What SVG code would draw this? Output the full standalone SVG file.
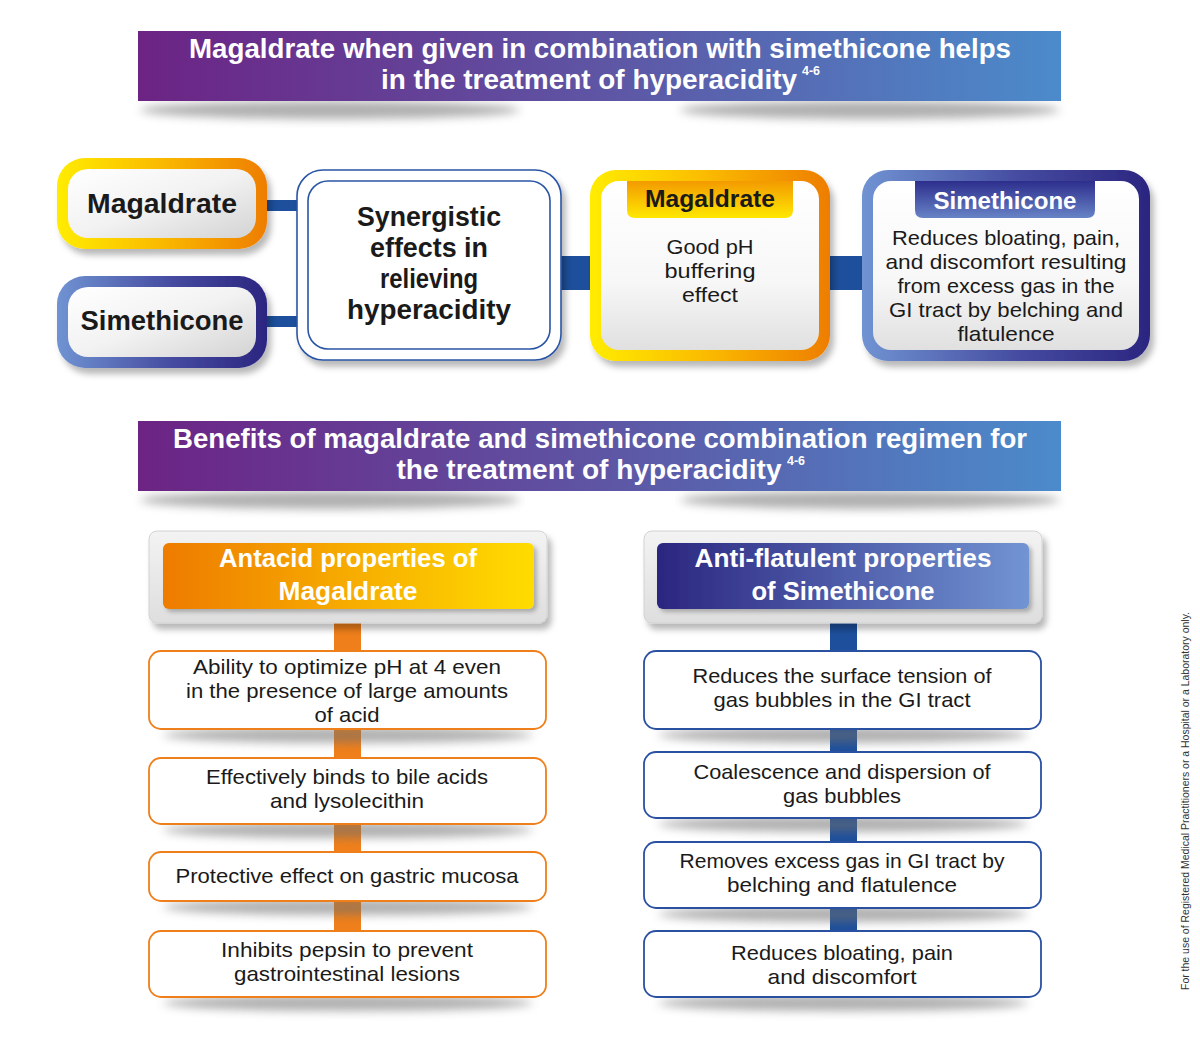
<svg xmlns="http://www.w3.org/2000/svg" width="1200" height="1038" viewBox="0 0 1200 1038">
<defs>
<linearGradient id="gBanner" x1="0" y1="0" x2="1" y2="0"><stop offset="0" stop-color="#6c2384"/><stop offset="0.5" stop-color="#5e55a4"/><stop offset="1" stop-color="#4b8bcb"/></linearGradient>
<linearGradient id="gYO" x1="0" y1="0" x2="1" y2="0"><stop offset="0" stop-color="#ffec00"/><stop offset="0.45" stop-color="#fbbf00"/><stop offset="1" stop-color="#ee7d00"/></linearGradient>
<linearGradient id="gBl" x1="0" y1="0" x2="1" y2="0"><stop offset="0" stop-color="#7093d2"/><stop offset="0.55" stop-color="#454ba0"/><stop offset="1" stop-color="#2b2680"/></linearGradient>
<linearGradient id="gIn" x1="0" y1="0" x2="1" y2="1"><stop offset="0" stop-color="#ffffff"/><stop offset="0.5" stop-color="#f2f2f2"/><stop offset="1" stop-color="#d3d3d3"/></linearGradient>
<linearGradient id="gInV" x1="0" y1="0" x2="0" y2="1"><stop offset="0" stop-color="#ffffff"/><stop offset="0.6" stop-color="#f7f7f7"/><stop offset="1" stop-color="#e0e0e0"/></linearGradient>
<linearGradient id="gTabO" x1="0" y1="0" x2="0" y2="1"><stop offset="0" stop-color="#f39a00"/><stop offset="1" stop-color="#ffe800"/></linearGradient>
<linearGradient id="gTabB" x1="0" y1="0" x2="0" y2="1"><stop offset="0" stop-color="#2d2e8c"/><stop offset="1" stop-color="#6783c6"/></linearGradient>
<linearGradient id="gHdO" x1="0" y1="0" x2="1" y2="0"><stop offset="0" stop-color="#ee7b00"/><stop offset="1" stop-color="#ffdc00"/></linearGradient>
<linearGradient id="gHdB" x1="0" y1="0" x2="1" y2="0"><stop offset="0" stop-color="#2b2680"/><stop offset="1" stop-color="#7294d3"/></linearGradient>
<linearGradient id="gCard" x1="0" y1="0" x2="0" y2="1"><stop offset="0" stop-color="#f3f3f3"/><stop offset="1" stop-color="#dedede"/></linearGradient>
<filter id="blur" x="-20%" y="-100%" width="140%" height="300%"><feGaussianBlur stdDeviation="5"/></filter>
<filter id="ds" x="-10%" y="-10%" width="125%" height="135%"><feDropShadow dx="4" dy="6" stdDeviation="3" flood-color="#000" flood-opacity="0.28"/></filter>
<filter id="ds2" x="-10%" y="-10%" width="125%" height="135%"><feDropShadow dx="3" dy="3" stdDeviation="2" flood-color="#000" flood-opacity="0.25"/></filter>
</defs>
<style>
.t{font-family:"Liberation Sans",Arial,sans-serif;text-anchor:middle}
.b{font-weight:700}
.w{fill:#ffffff}
.k{fill:#1a1a1a}
.ttl{font-size:27.5px}
.nb{font-size:27px}
.hb{font-size:24px}
.bd{font-size:21px;fill:#1a1a1a}
.hd{font-size:26px}
.bo{fill:#ffffff;stroke:#ef7f1a;stroke-width:1.8}
.bb{fill:#ffffff;stroke:#2a50a2;stroke-width:1.8}
.sh{fill:#6e6e6e;opacity:0.55;filter:url(#blur)}
.con{fill:#1d4f9c}
.cono{fill:#ef7f1a}
</style>
<rect width="1200" height="1038" fill="#ffffff"/>

<g id="banner1">
<ellipse class="sh" cx="330" cy="110" rx="190" ry="9"/>
<ellipse class="sh" cx="870" cy="110" rx="190" ry="9"/>
<rect x="138" y="31" width="923" height="70" fill="url(#gBanner)"/>
<text class="t b w ttl" x="600" y="58" textLength="822" lengthAdjust="spacingAndGlyphs">Magaldrate when given in combination with simethicone helps</text>
<text class="t b w ttl" x="589" y="89" textLength="416" lengthAdjust="spacingAndGlyphs">in the treatment of hyperacidity</text>
<text class="t b w" x="811" y="75" font-size="13" textLength="18" lengthAdjust="spacingAndGlyphs">4-6</text>
</g>

<g id="connectors">
<rect class="con" x="264" y="200" width="35" height="11"/>
<rect class="con" x="264" y="316" width="35" height="11"/>
<rect class="con" x="559" y="256" width="33" height="34"/>
<rect class="con" x="828" y="256" width="36" height="34"/>
<rect class="cono" x="334" y="622" width="27" height="312"/>
<rect class="con" x="830" y="622" width="27" height="312"/>
</g>

<g id="n-magaldrate">
<rect x="57" y="158" width="210" height="91" rx="28" fill="url(#gYO)" filter="url(#ds)"/>
<rect x="68" y="169" width="188" height="69" rx="20" fill="url(#gIn)"/>
<text class="t b k nb" x="162" y="213" textLength="150" lengthAdjust="spacingAndGlyphs">Magaldrate</text>
</g>

<g id="n-simethicone">
<rect x="57" y="276" width="210" height="92" rx="28" fill="url(#gBl)" filter="url(#ds)"/>
<rect x="68" y="287" width="188" height="70" rx="20" fill="url(#gIn)"/>
<text class="t b k nb" x="162" y="330" textLength="163" lengthAdjust="spacingAndGlyphs">Simethicone</text>
</g>

<g id="n-synergistic">
<rect x="297" y="170" width="264" height="190" rx="26" fill="#ffffff" stroke="#2a55a5" stroke-width="1.6" filter="url(#ds)"/>
<rect x="308" y="181" width="242" height="168" rx="20" fill="#ffffff" stroke="#2a55a5" stroke-width="1.6"/>
<text class="t b k nb" x="429" y="226" textLength="144" lengthAdjust="spacingAndGlyphs">Synergistic</text>
<text class="t b k nb" x="429" y="257" textLength="118" lengthAdjust="spacingAndGlyphs">effects in</text>
<text class="t b k nb" x="429" y="288" textLength="98" lengthAdjust="spacingAndGlyphs">relieving</text>
<text class="t b k nb" x="429" y="319" textLength="164" lengthAdjust="spacingAndGlyphs">hyperacidity</text>
</g>

<g id="n-magaldrate-effect">
<rect x="590" y="170" width="240" height="191" rx="26" fill="url(#gYO)" filter="url(#ds)"/>
<rect x="601" y="181" width="218" height="169" rx="18" fill="url(#gInV)"/>
<path d="M627 181 H793 V210 Q793 218 785 218 H635 Q627 218 627 210 Z" fill="url(#gTabO)"/>
<text class="t b k hb" x="710" y="207" textLength="130" lengthAdjust="spacingAndGlyphs">Magaldrate</text>
<text class="t bd" x="710" y="254" textLength="87" lengthAdjust="spacingAndGlyphs">Good pH</text>
<text class="t bd" x="710" y="278" textLength="91" lengthAdjust="spacingAndGlyphs">buffering</text>
<text class="t bd" x="710" y="302" textLength="56" lengthAdjust="spacingAndGlyphs">effect</text>
</g>

<g id="n-simethicone-effect">
<rect x="862" y="170" width="288" height="191" rx="26" fill="url(#gBl)" filter="url(#ds)"/>
<rect x="873" y="181" width="266" height="169" rx="18" fill="url(#gInV)"/>
<path d="M915 181 H1095 V210 Q1095 218 1087 218 H923 Q915 218 915 210 Z" fill="url(#gTabB)"/>
<text class="t b w hb" x="1005" y="209" textLength="143" lengthAdjust="spacingAndGlyphs">Simethicone</text>
<text class="t bd" x="1006" y="245" textLength="228" lengthAdjust="spacingAndGlyphs">Reduces bloating, pain,</text>
<text class="t bd" x="1006" y="269" textLength="241" lengthAdjust="spacingAndGlyphs">and discomfort resulting</text>
<text class="t bd" x="1006" y="293" textLength="217" lengthAdjust="spacingAndGlyphs">from excess gas in the</text>
<text class="t bd" x="1006" y="317" textLength="234" lengthAdjust="spacingAndGlyphs">GI tract by belching and</text>
<text class="t bd" x="1006" y="341" textLength="97" lengthAdjust="spacingAndGlyphs">flatulence</text>
</g>

<g id="banner2">
<ellipse class="sh" cx="330" cy="500" rx="190" ry="9"/>
<ellipse class="sh" cx="870" cy="500" rx="190" ry="9"/>
<rect x="138" y="421" width="923" height="70" fill="url(#gBanner)"/>
<text class="t b w ttl" x="600" y="448" textLength="854" lengthAdjust="spacingAndGlyphs">Benefits of magaldrate and simethicone combination regimen for</text>
<text class="t b w ttl" x="589" y="479" textLength="385" lengthAdjust="spacingAndGlyphs">the treatment of hyperacidity</text>
<text class="t b w" x="796" y="465" font-size="13" textLength="18" lengthAdjust="spacingAndGlyphs">4-6</text>
</g>

<g id="h-antacid">
<rect x="149" y="531" width="398" height="92" rx="8" fill="url(#gCard)" stroke="#d2d2d2" stroke-width="1" filter="url(#ds)"/>
<rect x="163" y="543" width="371" height="66" rx="6" fill="url(#gHdO)" filter="url(#ds2)"/>
<text class="t b w hd" x="348" y="567" textLength="258" lengthAdjust="spacingAndGlyphs">Antacid properties of</text>
<text class="t b w hd" x="348" y="600" textLength="139" lengthAdjust="spacingAndGlyphs">Magaldrate</text>
</g>

<g id="h-antiflatulent">
<rect x="644" y="531" width="398" height="92" rx="8" fill="url(#gCard)" stroke="#d2d2d2" stroke-width="1" filter="url(#ds)"/>
<rect x="657" y="543" width="372" height="66" rx="6" fill="url(#gHdB)" filter="url(#ds2)"/>
<text class="t b w hd" x="843" y="567" textLength="297" lengthAdjust="spacingAndGlyphs">Anti-flatulent properties</text>
<text class="t b w hd" x="843" y="600" textLength="183" lengthAdjust="spacingAndGlyphs">of Simethicone</text>
</g>

<g id="l1">
<ellipse class="sh" cx="348" cy="735" rx="185" ry="8"/>
<rect class="bo" x="149" y="651" width="397" height="78" rx="12"/>
<text class="t bd" x="347" y="674" textLength="308" lengthAdjust="spacingAndGlyphs">Ability to optimize pH at 4 even</text>
<text class="t bd" x="347" y="698" textLength="322" lengthAdjust="spacingAndGlyphs">in the presence of large amounts</text>
<text class="t bd" x="347" y="722" textLength="65" lengthAdjust="spacingAndGlyphs">of acid</text>
</g>
<g id="l2">
<ellipse class="sh" cx="348" cy="830" rx="185" ry="8"/>
<rect class="bo" x="149" y="758" width="397" height="66" rx="12"/>
<text class="t bd" x="347" y="784" textLength="282" lengthAdjust="spacingAndGlyphs">Effectively binds to bile acids</text>
<text class="t bd" x="347" y="808" textLength="154" lengthAdjust="spacingAndGlyphs">and lysolecithin</text>
</g>
<g id="l3">
<ellipse class="sh" cx="348" cy="907" rx="185" ry="8"/>
<rect class="bo" x="149" y="852" width="397" height="49" rx="12"/>
<text class="t bd" x="347" y="883" textLength="343" lengthAdjust="spacingAndGlyphs">Protective effect on gastric mucosa</text>
</g>
<g id="l4">
<ellipse class="sh" cx="348" cy="1003" rx="185" ry="8"/>
<rect class="bo" x="149" y="931" width="397" height="66" rx="12"/>
<text class="t bd" x="347" y="957" textLength="252" lengthAdjust="spacingAndGlyphs">Inhibits pepsin to prevent</text>
<text class="t bd" x="347" y="981" textLength="226" lengthAdjust="spacingAndGlyphs">gastrointestinal lesions</text>
</g>

<g id="r1">
<ellipse class="sh" cx="843" cy="735" rx="185" ry="8"/>
<rect class="bb" x="644" y="651" width="397" height="78" rx="12"/>
<text class="t bd" x="842" y="683" textLength="299" lengthAdjust="spacingAndGlyphs">Reduces the surface tension of</text>
<text class="t bd" x="842" y="707" textLength="257" lengthAdjust="spacingAndGlyphs">gas bubbles in the GI tract</text>
</g>
<g id="r2">
<ellipse class="sh" cx="843" cy="824" rx="185" ry="8"/>
<rect class="bb" x="644" y="752" width="397" height="66" rx="12"/>
<text class="t bd" x="842" y="779" textLength="297" lengthAdjust="spacingAndGlyphs">Coalescence and dispersion of</text>
<text class="t bd" x="842" y="803" textLength="118" lengthAdjust="spacingAndGlyphs">gas bubbles</text>
</g>
<g id="r3">
<ellipse class="sh" cx="843" cy="914" rx="185" ry="8"/>
<rect class="bb" x="644" y="842" width="397" height="66" rx="12"/>
<text class="t bd" x="842" y="868" textLength="325" lengthAdjust="spacingAndGlyphs">Removes excess gas in GI tract by</text>
<text class="t bd" x="842" y="892" textLength="230" lengthAdjust="spacingAndGlyphs">belching and flatulence</text>
</g>
<g id="r4">
<ellipse class="sh" cx="843" cy="1003" rx="185" ry="8"/>
<rect class="bb" x="644" y="931" width="397" height="66" rx="12"/>
<text class="t bd" x="842" y="960" textLength="222" lengthAdjust="spacingAndGlyphs">Reduces bloating, pain</text>
<text class="t bd" x="842" y="984" textLength="149" lengthAdjust="spacingAndGlyphs">and discomfort</text>
</g>

<g id="footnote">
<text class="t" x="0" y="0" font-size="10.5" fill="#333333" transform="translate(1189 801) rotate(-90)" textLength="378" lengthAdjust="spacingAndGlyphs">For the use of Registered Medical Practitioners or a Hospital or a Laboratory only.</text>
</g>
</svg>
